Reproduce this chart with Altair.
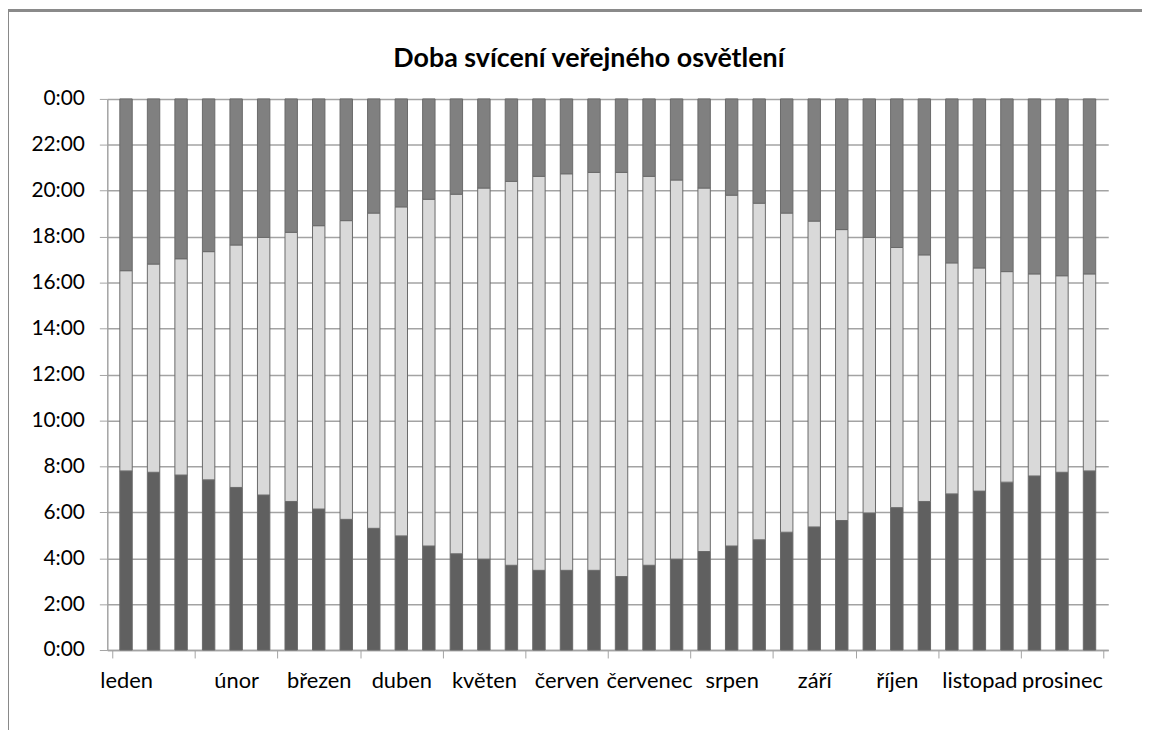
import altair as alt
import pandas as pd

# Data (hours of the day), three readings per month
months = ["leden", "únor", "březen", "duben", "květen", "červen",
          "červenec", "srpen", "září", "říjen", "listopad", "prosinec"]

# morning switch-off time (end of morning lighting)
morning_off = [7.80, 7.74, 7.62, 7.41, 7.08, 6.75, 6.47, 6.14, 5.69, 5.30, 4.97, 4.53,
               4.19, 3.96, 3.69, 3.47, 3.47, 3.47, 3.20, 3.69, 3.96, 4.29, 4.53, 4.80,
               5.13, 5.36, 5.64, 5.97, 6.20, 6.47, 6.80, 6.92, 7.31, 7.58, 7.74, 7.80]

# evening switch-on time (start of evening lighting)
evening_on = [16.52, 16.81, 17.04, 17.35, 17.64, 17.97, 18.19, 18.48, 18.70, 19.03, 19.30, 19.63,
              19.85, 20.12, 20.41, 20.63, 20.74, 20.80, 20.80, 20.63, 20.47, 20.12, 19.81, 19.46,
              19.03, 18.68, 18.31, 17.97, 17.53, 17.21, 16.86, 16.64, 16.48, 16.38, 16.30, 16.38]

title_text = "Doba svícení veřejného osvětlení"

segments = ["ráno", "den", "večer"]
colors = ["#606060", "#d9d9d9", "#808080"]

rows = []
for i, (m, e) in enumerate(zip(morning_off, evening_on)):
    pos = i + 0.5
    rows.append({"pos": pos, "seg": "ráno", "order": 0, "val": m})
    rows.append({"pos": pos, "seg": "den", "order": 1, "val": e - m})
    rows.append({"pos": pos, "seg": "večer", "order": 2, "val": 24 - e})
df = pd.DataFrame(rows)

n = len(morning_off)
tick_vals = list(range(0, n + 1, 3))
label_vals = [0.5] + [3 * k + 1.5 for k in range(1, 12)]
x_values = sorted(tick_vals + label_vals)

month_js = "[" + ",".join("'" + m + "'" for m in months) + "]"

FONT = "Lato"
GRID = "#a3a3a3"

bars = alt.Chart(df).mark_bar(width=12.5, stroke="#6a6a6a", strokeWidth=1).encode(
    x=alt.X("pos:Q",
            scale=alt.Scale(domain=[0, n], nice=False, zero=False),
            axis=alt.Axis(values=x_values, title=None, grid=False,
                          labelExpr=f"datum.value % 1 === 0 ? '' : {month_js}[floor(datum.value / 3)]",
                          labelOverlap=False, labelFlush=False,
                          tickOpacity={"condition": {"test": "datum.value % 1 !== 0", "value": 0}, "value": 1},
                          tickSize=8, tickColor=GRID, domainColor=GRID, domainWidth=1.5,
                          labelPadding=13, labelFontSize=22, labelFont=FONT, labelColor="#000000")),
    y=alt.Y("val:Q", stack="zero",
            scale=alt.Scale(domain=[0, 24], nice=False),
            axis=alt.Axis(values=list(range(0, 25, 2)), title=None,
                          labelExpr="(datum.value % 24) + ':00'",
                          gridColor=GRID, gridWidth=1.5, tickColor=GRID, tickSize=8,
                          domainColor=GRID, domainWidth=1.5,
                          labelPadding=15, labelFontSize=21, labelFont=FONT, labelColor="#000000")),
    color=alt.Color("seg:N", scale=alt.Scale(domain=segments, range=colors), legend=None),
    order=alt.Order("order:Q"),
)

title = alt.Chart(pd.DataFrame({"t": [title_text]})).mark_text(
    font=FONT, fontSize=27, fontWeight="bold", color="#000000",
    align="center", baseline="alphabetic").encode(
    text="t:N", x=alt.value(485), y=alt.value(-32))

border_left = alt.Chart(df).mark_rule(color="#8a8a8a", strokeWidth=2).encode(
    x=alt.value(-100), y=alt.value(-89), y2=alt.value(635))
border_top = alt.Chart(df).mark_rule(color="#8a8a8a", strokeWidth=2).encode(
    x=alt.value(-100), x2=alt.value(1042), y=alt.value(-89))

chart = alt.layer(bars, title, border_left, border_top).properties(
    width=1008, height=555,
    autosize=alt.AutoSizeParams(type="none"),
    padding={"left": 100, "top": 89, "right": 34, "bottom": 80},
).configure_view(stroke=None)

chart.save("out.html", embed_options={"renderer": "svg", "actions": False})
